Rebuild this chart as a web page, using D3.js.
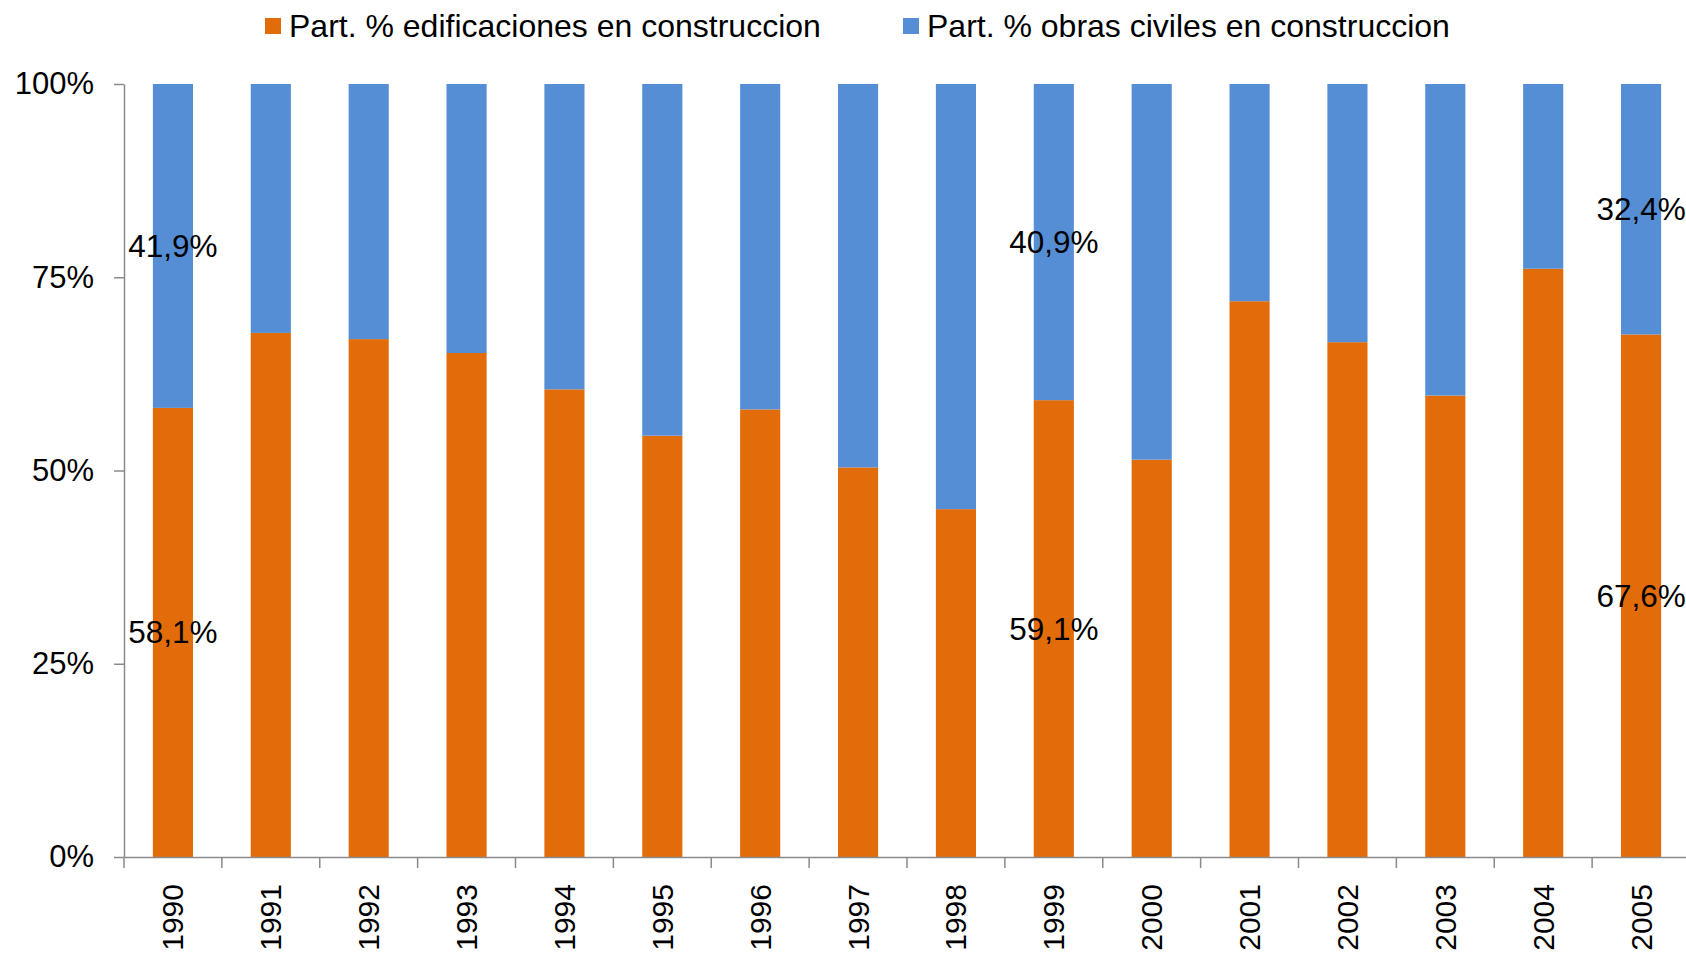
<!DOCTYPE html>
<html>
<head>
<meta charset="utf-8">
<script src="https://cdn.jsdelivr.net/npm/d3@7"></script>
<style>
  body { margin: 0; background: #fff; }
  svg { display: block; font-family: "Liberation Sans", Arial, sans-serif; }
  .axis path, .axis line { stroke: #8a8a8a; stroke-width: 1.5px; }
  .axis text { fill: #000; }
</style>
</head>
<body>
<div id="chart"></div>
<script>
// data (percent of total construction)
const YEARS = ["1990", "1991", "1992", "1993", "1994", "1995", "1996", "1997",
               "1998", "1999", "2000", "2001", "2002", "2003", "2004", "2005"];
const EDIFICACIONES = [58.1, 67.8, 67.0, 65.2, 60.5, 54.5, 57.9, 50.4,
                       45.0, 59.1, 51.4, 71.9, 66.6, 59.7, 76.1, 67.6];
const OBRAS_CIVILES = [41.9, 32.2, 33.0, 34.8, 39.5, 45.5, 42.1, 49.6,
                       55.0, 40.9, 48.6, 28.1, 33.4, 40.3, 23.9, 32.4];
const SERIES_NAMES = ["Part. % edificaciones en construccion",
                      "Part. % obras civiles en construccion"];
const Y_TICKS = [0, 25, 50, 75, 100];
const LABELED_YEARS = ["1990", "1999", "2005"];

const FRAME_WIDTH = 1686;
const FRAME_HEIGHT = 953;
const MARGINS = {left: 124, right: -4, top: 84, bottom: 96};
const VIS_WIDTH = FRAME_WIDTH - MARGINS.left - MARGINS.right;
const VIS_HEIGHT = FRAME_HEIGHT - MARGINS.top - MARGINS.bottom;

const COLORS = ["#e36c0a", "#558ed5"];

const locale = d3.formatLocale({decimal: ",", thousands: ".", grouping: [3], currency: ["", ""]});
const pct1 = (v) => locale.format(".1f")(v) + "%";

const table = YEARS.map((y, i) => ({year: y, edif: EDIFICACIONES[i], obras: OBRAS_CIVILES[i]}));
const stacked = d3.stack().keys(["edif", "obras"])(table);

const X_SCALE = d3.scaleBand()
                  .domain(YEARS)
                  .range([0, VIS_WIDTH])
                  .paddingInner(0.59)
                  .paddingOuter(0.295);

const Y_SCALE = d3.scaleLinear()
                  .domain([0, 100])
                  .range([VIS_HEIGHT, 0]);

const svg = d3.select("#chart")
              .append("svg")
                .attr("width", FRAME_WIDTH)
                .attr("height", FRAME_HEIGHT);

const g = svg.append("g")
             .attr("transform", "translate(" + MARGINS.left + "," + MARGINS.top + ")");

// bars
g.selectAll("g.series")
  .data(stacked)
  .enter()
  .append("g")
    .attr("class", "series")
    .attr("fill", (d, i) => COLORS[i])
  .selectAll("rect")
  .data((d) => d)
  .enter()
  .append("rect")
    .attr("x", (d) => X_SCALE(d.data.year))
    .attr("y", (d) => Y_SCALE(d[1]))
    .attr("width", X_SCALE.bandwidth())
    .attr("height", (d) => Y_SCALE(d[0]) - Y_SCALE(d[1]));

// y axis
const yAxis = g.append("g")
  .attr("class", "axis")
  .call(d3.axisLeft(Y_SCALE)
          .tickValues(Y_TICKS)
          .tickFormat((d) => d + "%")
          .tickSize(10)
          .tickSizeOuter(0)
          .tickPadding(20));
yAxis.selectAll("text").attr("font-size", "31px").attr("font-family", null);

// x axis: labels at band centres, ticks at band edges
const xAxis = g.append("g")
  .attr("class", "axis")
  .attr("transform", "translate(0," + VIS_HEIGHT + ")")
  .call(d3.axisBottom(X_SCALE).tickSize(0).tickSizeOuter(0));
xAxis.selectAll("text")
  .attr("font-size", "30px")
  .attr("font-family", null)
  .attr("transform", "rotate(-90)")
  .attr("text-anchor", "end")
  .attr("x", -27)
  .attr("y", 0)
  .attr("dy", "0.35em");

const step = X_SCALE.step();
const x0 = X_SCALE.range()[0];
xAxis.selectAll("line.edge")
  .data(d3.range(YEARS.length + 1))
  .enter()
  .append("line")
    .attr("class", "edge")
    .attr("x1", (i) => x0 + i * step)
    .attr("x2", (i) => x0 + i * step)
    .attr("y1", 0)
    .attr("y2", 11);

// data labels on selected years
stacked.forEach((s) => {
  g.append("g")
    .selectAll("text")
    .data(s.filter((d) => LABELED_YEARS.includes(d.data.year)))
    .enter()
    .append("text")
      .attr("x", (d) => X_SCALE(d.data.year) + X_SCALE.bandwidth() / 2)
      .attr("y", (d) => Y_SCALE((d[0] + d[1]) / 2))
      .attr("dy", "0.35em")
      .attr("text-anchor", "middle")
      .attr("font-size", "31.5px")
      .text((d) => pct1(d[1] - d[0]));
});

// legend
const LEGEND_X = [265, 903];
const legend = svg.append("g");
SERIES_NAMES.forEach((name, i) => {
  legend.append("rect")
    .attr("x", LEGEND_X[i])
    .attr("y", 18)
    .attr("width", 16)
    .attr("height", 16)
    .attr("fill", COLORS[i]);
  legend.append("text")
    .attr("x", LEGEND_X[i] + 24)
    .attr("y", 37)
    .attr("font-size", "32px")
    .text(name);
});
</script>
</body>
</html>
